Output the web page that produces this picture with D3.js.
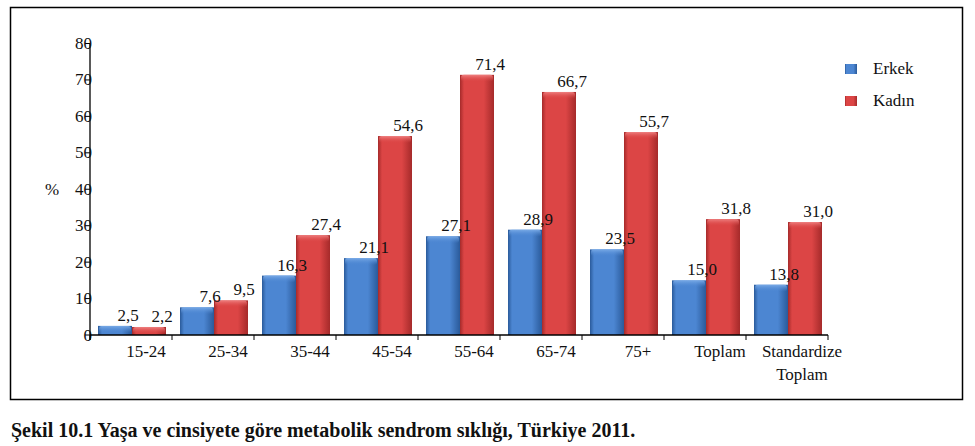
<!DOCTYPE html>
<html><head><meta charset="utf-8">
<script src="https://cdn.jsdelivr.net/npm/d3@7"></script>
</head><body style="margin:0;background:#fff"><svg id="c" width="975" height="446" style="display:block"></svg>
<script>
const categories = ["15-24","25-34","35-44","45-54","55-64","65-74","75+","Toplam","Standardize Toplam"];
const series = ["Erkek","Kadın"];
const erkek = [2.5,7.6,16.3,21.1,27.1,28.9,23.5,15.0,13.8];
const kadin = [2.2,9.5,27.4,54.6,71.4,66.7,55.7,31.8,31.0];
const yTicks = [0,10,20,30,40,50,60,70,80];
const caption = "Şekil 10.1 Yaşa ve cinsiyete göre metabolik sendrom sıklığı, Türkiye 2011.";
const values = {"Erkek": erkek, "Kadın": kadin};
const FONT = "Liberation Serif";

const svg = d3.select("#c");
const defs = svg.append("defs");
const pal = {"Erkek":{d:"#2a5a9a",m:"#4c86d2",l:"#79aae6"}, "Kadın":{d:"#a52a2a",m:"#dc4545",l:"#ee8080"}};
series.forEach((s,i)=>{
  const g = defs.append("linearGradient").attr("id","g"+i).attr("x1","0").attr("x2","1");
  g.append("stop").attr("offset","0").attr("stop-color",pal[s].d);
  g.append("stop").attr("offset","0.12").attr("stop-color",pal[s].m);
  g.append("stop").attr("offset","0.7").attr("stop-color",pal[s].m);
  g.append("stop").attr("offset","1").attr("stop-color",pal[s].d);
  const h = defs.append("linearGradient").attr("id","h"+i).attr("x1","0").attr("x2","0").attr("y1","0").attr("y2","1");
  h.append("stop").attr("offset","0").attr("stop-color",pal[s].l);
  h.append("stop").attr("offset","1").attr("stop-color",pal[s].m).attr("stop-opacity",0);
});

// outer frame
svg.append("rect").attr("x",10.5).attr("y",7.5).attr("width",952).attr("height",392).attr("fill","none").attr("stroke","#000").attr("stroke-width",1.5);

const x = d3.scaleBand().domain(categories).range([90,828]).padding(0);
const x1 = d3.scaleBand().domain(series).range([8,76]).padding(0);
const y = d3.scaleLinear().domain([0,80]).range([335,43.5]);

// bars
const barLayer = svg.append("g");
const labelLayer = svg.append("g");
series.forEach((s,si)=>{
  const g = barLayer.append("g");
  const data = categories.map((c,i)=>({c,v:values[s][i]}));
  g.selectAll("rect.bar").data(data).join("rect").attr("class","bar")
    .attr("x",d=>x(d.c)+x1(s)).attr("y",d=>y(d.v))
    .attr("width",x1.bandwidth()).attr("height",d=>y(0)-y(d.v))
    .attr("fill",`url(#g${si})`);
  g.selectAll("rect.top").data(data).join("rect").attr("class","top")
    .attr("x",d=>x(d.c)+x1(s)+1).attr("y",d=>y(d.v))
    .attr("width",x1.bandwidth()-2).attr("height",d=>Math.min(7,y(0)-y(d.v)))
    .attr("rx",3).attr("fill",`url(#h${si})`);
  labelLayer.append("g").selectAll("text").data(data).join("text")
    .attr("x",d=>x(d.c)+x1(s)+x1.bandwidth()/2+13).attr("y",d=>y(d.v)-5)
    .attr("text-anchor","middle").attr("font-size",17)
    .text(d=>d3.format(".1f")(d.v).replace(".",","));
});

// y axis
const ya = svg.append("g");
ya.append("line").attr("x1",90).attr("x2",90).attr("y1",y(80)).attr("y2",340).attr("stroke","#000").attr("stroke-width",1.3);
ya.selectAll("line.t").data(yTicks).join("line").attr("class","t")
  .attr("x1",85).attr("x2",90).attr("y1",d=>y(d)).attr("y2",d=>y(d)).attr("stroke","#000");
ya.selectAll("text").data(yTicks).join("text")
  .attr("x",92).attr("y",d=>y(d)+5.5).attr("text-anchor","end").attr("font-size",17).text(d=>d);
svg.append("text").attr("x",52).attr("y",195).attr("text-anchor","middle").attr("font-size",17).text("%");

// x axis
const xa = svg.append("g");
xa.append("line").attr("x1",90).attr("x2",828).attr("y1",335).attr("y2",335).attr("stroke","#000").attr("stroke-width",1.3);
const bounds = categories.map(c=>x(c)).concat([x.range()[1]]);
xa.selectAll("line.t").data(bounds).join("line").attr("class","t")
  .attr("x1",d=>d).attr("x2",d=>d).attr("y1",335).attr("y2",340).attr("stroke","#000");
xa.selectAll("text").data(categories).join("text")
  .attr("x",d=>x(d)+x.bandwidth()/2+15).attr("y",357).attr("text-anchor","middle").attr("font-size",17)
  .each(function(d){
    const parts = d==="Standardize Toplam" ? ["Standardize","Toplam"] : [d];
    const t = d3.select(this);
    parts.forEach((p,i)=>t.append("tspan").attr("x",x(d)+x.bandwidth()/2+15).attr("dy",i?23:0).text(p));
  });

// legend
const lg = svg.append("g");
series.forEach((s,i)=>{
  lg.append("rect").attr("x",845).attr("y",64+i*32).attr("width",12).attr("height",10).attr("fill",`url(#g${i})`);
  lg.append("text").attr("x",873).attr("y",74+i*32).attr("font-size",17).text(s);
});

// caption
svg.append("text").attr("x",11).attr("y",437).attr("font-size",20).attr("font-weight","bold").text(caption);

svg.selectAll("text").attr("font-family",FONT).style("font-family",'"' + FONT + '"').attr("fill","#111");
</script></body></html>
